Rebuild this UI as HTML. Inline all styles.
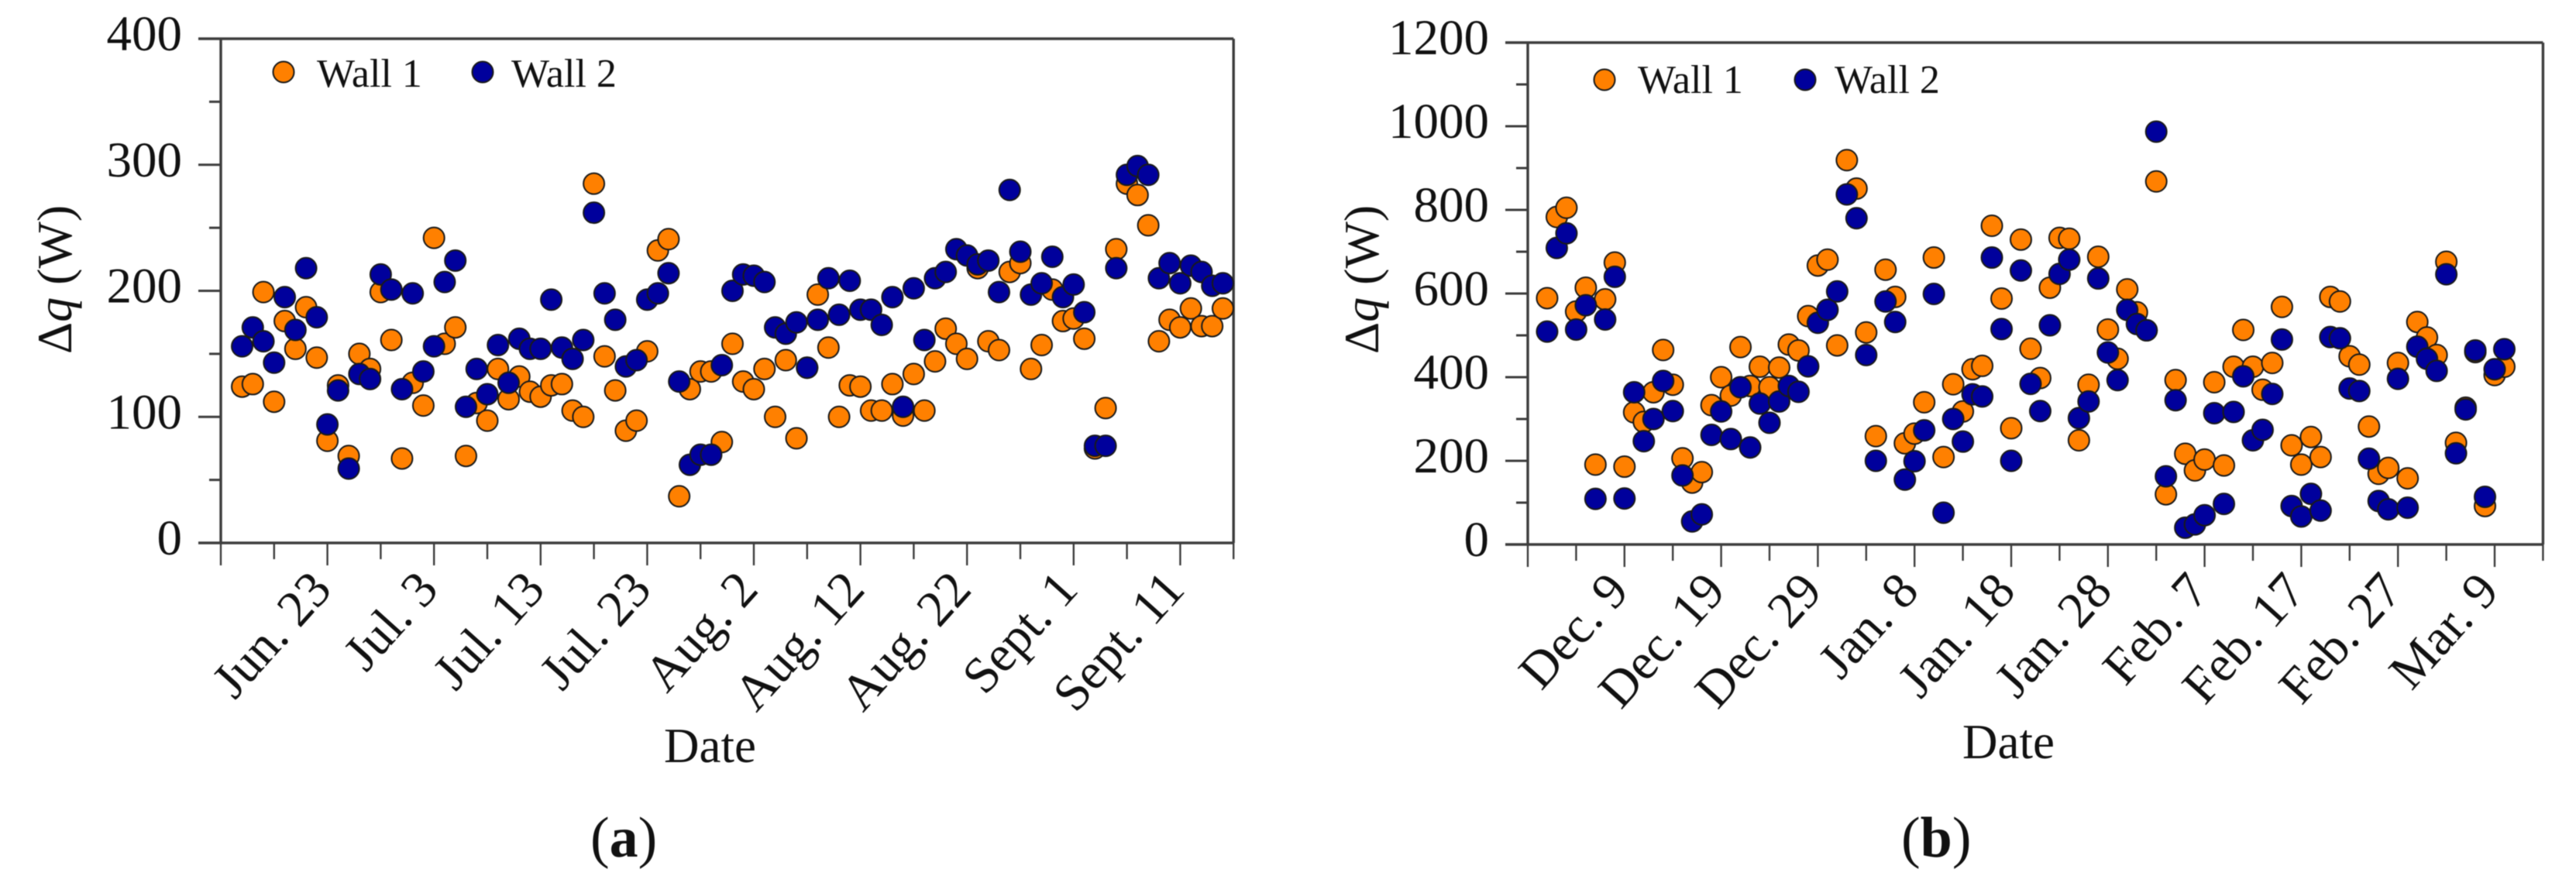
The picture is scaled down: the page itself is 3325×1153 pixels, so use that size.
<!DOCTYPE html>
<html lang="en">
<head>
<meta charset="utf-8">
<title>Wall 1 and Wall 2 heat flux difference</title>
<style>
html,body{margin:0;padding:0;background:#fff;}
svg{display:block;filter:blur(0.6px);}
text{font-family:"Liberation Serif","DejaVu Serif",serif;fill:#111;}
</style>
</head>
<body>
<svg id="figure" xmlns="http://www.w3.org/2000/svg" width="3325" height="1153" viewBox="0 0 3325 1153">
  <rect x="0" y="0" width="3325" height="1153" fill="#fff"/>

  <g id="panel-a"></g>
  <g id="panel-b"></g>

  <text transform="translate(92 457) rotate(-90)" font-size="64">Δ<tspan font-style="italic">q</tspan> (W)</text>
  <text transform="translate(1779 457) rotate(-90)" font-size="64">Δ<tspan font-style="italic">q</tspan> (W)</text>

  <text x="857" y="984" font-size="63">Date</text>
  <text x="2533" y="979" font-size="63">Date</text>

  <g>
    <circle cx="366" cy="93" r="13.5" fill="#ff8000" stroke="#1a1a1a" stroke-width="2"/>
    <text x="409" y="112" font-size="52">Wall 1</text>
    <circle cx="623" cy="93" r="13.5" fill="#00009c" stroke="#1a1a1a" stroke-width="2"/>
    <text x="660" y="112" font-size="52">Wall 2</text>
  </g>
  <g>
    <circle cx="2071" cy="103" r="13.5" fill="#ff8000" stroke="#1a1a1a" stroke-width="2"/>
    <text x="2114" y="120" font-size="52">Wall 1</text>
    <circle cx="2330" cy="103" r="13.5" fill="#00009c" stroke="#1a1a1a" stroke-width="2"/>
    <text x="2368" y="120" font-size="52">Wall 2</text>
  </g>

  <text x="762" y="1106" font-size="74">(<tspan font-weight="bold">a</tspan>)</text>
  <text x="2454" y="1106" font-size="74">(<tspan font-weight="bold">b</tspan>)</text>
</svg>

<script>
// Panel (a) data: one value per day, starting at firstDayA days after Jun. 13
const firstDayA = 2;
const wall1A = [124,126,199,112,176,154,187,147,81,125,
  69,150,138,199,161,67,127,109,242,158,
  171,69,111,97,138,114,132,120,116,125,
  126,105,100,285,148,121,89,97,152,232,
  241,37,122,136,136,80,158,128,122,138,
  100,145,83,139,197,155,100,125,124,105,
  105,126,101,134,105,144,170,158,146,218,
  160,153,215,222,138,157,201,176,178,162,
  75,107,233,285,276,252,160,177,171,186,
  172,172,186];
const wall2A = [156,171,160,143,195,169,218,179,94,121,
  59,134,130,213,201,122,198,136,156,207,
  224,108,138,118,157,127,162,154,154,193,
  155,146,161,262,198,177,140,145,193,198,
  214,128,62,70,70,141,200,213,212,207,
  171,166,175,139,177,210,181,208,185,185,
  173,195,108,202,161,210,215,233,228,221,
  224,199,280,231,197,206,227,195,205,183,
  77,77,218,292,299,292,210,222,206,220,
  215,204,206];
const xTickLabelsA = ['Jun. 23','Jul. 3','Jul. 13','Jul. 23','Aug. 2','Aug. 12','Aug. 22','Sept. 1','Sept. 11'];
const yTicksA = [0,100,200,300,400];

// Panel (b) data: one value per day, starting at firstDayB days after Nov. 29
const firstDayB = 2;
const wall1B = [589,783,805,557,614,191,586,674,186,316,
  293,364,465,382,206,148,173,333,400,356,
  472,379,425,376,423,478,464,546,667,681,
  476,919,851,507,259,657,592,242,265,340,
  686,209,383,318,419,427,762,588,278,729,
  468,398,614,733,731,249,382,688,514,444,
  610,555,512,868,120,393,217,177,203,388,
  189,425,513,425,370,434,568,237,191,257,
  209,592,581,450,430,282,169,183,434,158,
  532,495,453,676,243,327,460,92,405,425];
const wall2B = [509,709,744,514,572,109,538,640,110,364,
  247,300,391,319,165,55,72,262,318,252,
  376,232,337,291,342,379,365,426,530,561,
  605,837,780,453,200,581,532,155,199,273,
  599,76,300,246,359,354,686,515,200,655,
  384,319,524,647,681,302,342,636,459,393,
  561,527,512,987,163,345,40,48,70,314,
  97,317,402,249,274,360,490,92,67,121,
  81,496,493,373,367,205,104,84,396,88,
  473,444,415,646,218,323,464,114,419,467];
const xTickLabelsB = ['Dec. 9','Dec. 19','Dec. 29','Jan. 8','Jan. 18','Jan. 28','Feb. 7','Feb. 17','Feb. 27','Mar. 9'];
const yTicksB = [0,200,400,600,800,1000,1200];

const NS = 'http://www.w3.org/2000/svg';
const ORANGE = '#ff8000';
const BLUE = '#00009c';
const AXIS = '#3d3d3d';

function makeEl(parent, tag, attrs) {
  const el = document.createElementNS(NS, tag);
  for (const key in attrs) el.setAttribute(key, attrs[key]);
  parent.appendChild(el);
  return el;
}

function drawPanel(g, o) {
  const x = o.x, y = o.y;
  const left = x(0), right = x(o.maxDay);
  const top = y(o.yTicks[o.yTicks.length - 1]), bottom = y(0);
  const yStep = o.yTicks[1] - o.yTicks[0];

  // plot frame
  const frame = makeEl(g, 'path', {
    d: 'M' + left + ' ' + top + 'V' + bottom + 'M' + right + ' ' + top + 'V' + bottom +
       'M' + (left - 29) + ' ' + top + 'H' + right + 'M' + (left - 29) + ' ' + bottom + 'H' + right,
    fill: 'none', stroke: AXIS, 'stroke-width': 3.4
  });
  
  

  // y ticks and labels
  o.yTicks.forEach(function (v, i) {
    const t = makeEl(g, 'line', { x1: left - 29, x2: left, y1: y(v), y2: y(v), stroke: AXIS, 'stroke-width': 3 });
    
    
    const lab = makeEl(g, 'text', { x: left - 50, y: y(v) + 15, 'font-size': 65, 'text-anchor': 'end' });
    
    
    lab.textContent = String(v);
    if (i < o.yTicks.length - 1) {
      const mv = v + yStep / 2;
      const m = makeEl(g, 'line', { x1: left - 15, x2: left, y1: y(mv), y2: y(mv), stroke: AXIS, 'stroke-width': 3 });
      
      
    }
  });

  // x ticks every 5 days, labelled every 10
  for (let d = 0; d <= o.maxDay; d += 5) {
    const major = d % 10 === 0;
    const t = makeEl(g, 'line', { x1: x(d), x2: x(d), y1: bottom, y2: bottom + (major ? 29 : 21), stroke: AXIS, 'stroke-width': 2.4 });
    
    
  }
  o.xLabels.forEach(function (label, i) {
    const d = (i + 1) * 10;
    const lab = makeEl(g, 'text', {
      'font-size': 66, 'text-anchor': 'end',
      transform: 'translate(' + (x(d) + 8) + ' ' + (bottom + 62) + ') rotate(-48)'
    });
    
    
    lab.textContent = label;
  });

  // data points: Wall 1 under, Wall 2 on top
  o.wall1.forEach(function (v, i) {
    const c = makeEl(g, 'circle', { cx: x(o.firstDay + i), cy: y(v), r: 13.5, fill: ORANGE, stroke: '#1a1a1a', 'stroke-width': 2 });
    
    
  });
  o.wall2.forEach(function (v, i) {
    const c = makeEl(g, 'circle', { cx: x(o.firstDay + i), cy: y(v), r: 13.5, fill: BLUE, stroke: '#1a1a1a', 'stroke-width': 2 });
    
    
  });
}

drawPanel(document.getElementById('panel-a'), {
  x: function (d) { return 285 + d * 13.76; },
  y: function (v) { return 701 - v * 1.6275; },
  maxDay: 95, firstDay: firstDayA, yTicks: yTicksA, xLabels: xTickLabelsA,
  wall1: wall1A, wall2: wall2A
});
drawPanel(document.getElementById('panel-b'), {
  x: function (d) { return 1972 + d * 12.48; },
  y: function (v) { return 703 - v * 0.54; },
  maxDay: 105, firstDay: firstDayB, yTicks: yTicksB, xLabels: xTickLabelsB,
  wall1: wall1B, wall2: wall2B
});
</script>
</body>
</html>
